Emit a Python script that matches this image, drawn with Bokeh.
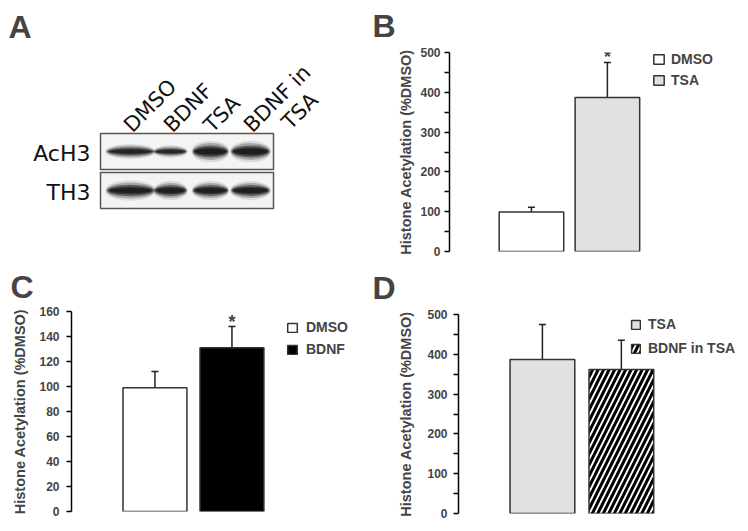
import math
from bokeh.plotting import figure
from bokeh.models import (Range1d, FixedTicker, Label, Legend, LegendItem,
                          ColumnDataSource, Whisker, TeeHead)
from bokeh.layouts import row, column
from bokeh.embed import file_html
from bokeh.resources import INLINE
from bokeh.core.properties import value

# ---------------- data ----------------
# Panel A (western blot)
blot_lanes = ["DMSO", "BDNF", "TSA", "BDNF in TSA"]
lane_label_line1 = ["DMSO", "BDNF", "TSA", "BDNF in"]
lane_label_line2 = ["TSA"]          # second line of the last lane label
blot_rows = ["AcH3", "TH3"]
ach3_signal = [0.70, 0.60, 1.0, 1.0]
th3_signal = [0.95, 0.90, 0.90, 0.90]
panel_letters = ["A", "B", "C", "D"]

# Panel B
b_groups = ["DMSO", "TSA"]
b_mean = [99, 387]
b_err = [12, 88]
b_star = [False, True]
b_ticks = [0, 100, 200, 300, 400, 500]
b_minor = [50, 150, 250, 350, 450]

# Panel C
c_groups = ["DMSO", "BDNF"]
c_mean = [99, 131]
c_err = [13, 17]
c_star = [False, True]
c_ticks = [0, 20, 40, 60, 80, 100, 120, 140, 160]
c_minor = []

# Panel D
d_groups = ["TSA", "BDNF in TSA"]
d_mean = [387, 362]
d_err = [88, 73]
d_star = [False, False]
d_ticks = [0, 100, 200, 300, 400, 500]
d_minor = [50, 150, 250, 350, 450]

Y_LABEL = "Histone Acetylation (%DMSO)"
FONT = "Liberation Sans"

# ---------------- panel A (also hosts the panel letters) ----------------
LANE0_PX, LANE_PX = 130.0, 40.0
ROW0_PX, ROW_PX = 151.0, 39.0
A_W, A_H = 395, 305


def ax_(px):
    return (px - LANE0_PX) / LANE_PX


def ay_(py):
    return (ROW0_PX - py) / ROW_PX


pa = figure(width=A_W, height=A_H,
            x_range=Range1d(ax_(0), ax_(A_W)), y_range=Range1d(ay_(A_H), ay_(0)),
            x_axis_type=None, y_axis_type=None, toolbar_location=None,
            output_backend="svg", min_border=0, outline_line_color=None)
pa.grid.visible = False

row_y = [-i for i in range(len(blot_rows))]
frame_cx = ax_(186.5)
frame_w = 173 / LANE_PX
frame_h = 36 / ROW_PX
pa.rect(x=[frame_cx] * len(blot_rows), y=row_y, width=frame_w, height=frame_h,
        fill_color="#f4f4f4", line_color="#555555", line_width=1.5)

band_w_px = [47, 32, 35, 38]
layers = [(1.08, 1.8, 0.10), (1.04, 1.4, 0.25), (1.0, 1.0, 0.40),
          (0.95, 0.7, 0.45), (0.88, 0.45, 0.45)]
bx, by, bw, bh, ba = [], [], [], [], []
for r_i, signals in enumerate([ach3_signal, th3_signal]):
    for i, s in enumerate(signals):
        for fw, fh, al in layers:
            bx.append(i)
            by.append(row_y[r_i])
            bw.append(band_w_px[i] * fw / LANE_PX)
            bh.append(12 * s * fh / ROW_PX)
            ba.append(al * (0.75 + 0.25 * s))
pa.ellipse(x=bx, y=by, width=bw, height=bh, fill_color="black",
           fill_alpha=ba, line_color=None)

pa.text(x=[frame_cx - frame_w / 2] * len(blot_rows), y=row_y, text=blot_rows,
        text_align="right", text_baseline="middle", x_offset=-10, y_offset=2,
        text_font=value("DejaVu Sans"), text_font_size="22px", text_color="#111111")

top_y = frame_h / 2
pa.text(x=list(range(len(blot_lanes))), y=[top_y] * len(blot_lanes), text=lane_label_line1,
        angle=math.pi / 4, text_align="left", text_baseline="alphabetic",
        x_offset=-3, y_offset=-5, text_font=value("DejaVu Sans"),
        text_font_size="21px", text_color="#111111")
pa.text(x=[len(blot_lanes) - 1], y=[top_y], text=lane_label_line2,
        angle=math.pi / 4, text_align="left", text_baseline="alphabetic",
        x_offset=35, y_offset=-8, text_font=value("DejaVu Sans"),
        text_font_size="21px", text_color="#111111")

# letter positions given as (left, cap centre) in page pixels
letter_px = [(8, 26), (372, 25), (10, 286), (372, 287)]
for letter, (lx, ly) in zip(panel_letters, letter_px):
    pa.add_layout(Label(x=ax_(lx), y=ay_(ly), text=letter, text_font=FONT,
                        text_font_style="bold", text_font_size="32px",
                        text_baseline="middle", text_align="left"))


# ---------------- bar panels ----------------
def bar_panel(groups, means, errs, stars, ticks, minor, y_max, fills, hatches,
              w, h, bl, bt, bb, x_start, x_end, bar_w,
              leg_xy, leg_glyph, leg_spacing, leg_standoff,
              axis_label_standoff, tick_label_standoff):
    p = figure(width=w, height=h, x_range=Range1d(x_start, x_end),
               y_range=Range1d(0, y_max), x_axis_type=None,
               toolbar_location=None, output_backend="svg",
               min_border_left=bl, min_border_right=0, min_border_top=bt,
               min_border_bottom=bb, outline_line_color=None)
    p.grid.visible = False
    xs = list(range(1, len(groups) + 1))
    src = ColumnDataSource(dict(x=xs, top=means,
                                upper=[m + e for m, e in zip(means, errs)],
                                label=groups, fill=fills, hatch=hatches))
    r = p.vbar(x="x", top="top", bottom=0, width=bar_w, source=src,
               fill_color="fill", line_color="#333333", line_width=1.5,
               hatch_pattern="hatch", hatch_color="black", hatch_weight=3,
               hatch_scale=11)
    p.add_layout(Whisker(base="x", lower="top", upper="upper", source=src,
                         line_color="#222222", line_width=1.5,
                         upper_head=TeeHead(size=7, line_color="#222222", line_width=1.5),
                         lower_head=None))
    for x, m, e, s in zip(xs, means, errs, stars):
        if s:
            p.add_layout(Label(x=x, y=m + e, text="*", text_align="center",
                               text_baseline="middle", y_offset=5,
                               text_font=FONT, text_font_style="bold",
                               text_font_size="18px"))
    ax = p.yaxis[0]
    ax.ticker = FixedTicker(ticks=ticks, minor_ticks=minor)
    ax.axis_line_width = 1.5
    ax.axis_line_color = "black"
    ax.major_tick_in = 0
    ax.major_tick_out = 5
    ax.minor_tick_in = 0
    ax.minor_tick_out = 5
    ax.major_tick_line_width = 1.5
    ax.minor_tick_line_width = 1.5
    ax.major_label_text_font = FONT
    ax.major_label_text_font_style = "bold"
    ax.major_label_text_font_size = "12px"
    ax.major_label_standoff = tick_label_standoff
    ax.axis_label = Y_LABEL
    ax.axis_label_text_font = FONT
    ax.axis_label_text_font_style = "bold"
    ax.axis_label_text_font_size = "14.5px"
    ax.axis_label_standoff = axis_label_standoff
    legend = Legend(items=[LegendItem(label=g, renderers=[r], index=i)
                           for i, g in enumerate(groups)],
                    location=leg_xy, glyph_width=leg_glyph[0],
                    glyph_height=leg_glyph[1], label_height=leg_glyph[1],
                    label_standoff=leg_standoff, spacing=leg_spacing,
                    padding=0, margin=0, border_line_alpha=0,
                    background_fill_alpha=0, label_text_font=FONT,
                    label_text_font_style="bold", label_text_font_size="14px")
    p.add_layout(legend)
    return p


pb = bar_panel(b_groups, b_mean, b_err, b_star, b_ticks, b_minor, 500,
               ["white", "#e1e1e1"], ["blank", "blank"],
               345, 262, 52, 52, 11, -0.0784, 3.752, 0.85,
               (203, 163), (13, 12), 5, 6, 3, 4)
pc = bar_panel(c_groups, c_mean, c_err, c_star, c_ticks, c_minor, 160,
               ["white", "black"], ["blank", "blank"],
               395, 218, 71, 6, 12, -0.084, 4.124, 0.83,
               (215, 154), (12, 11), 6, 8, 8, 7)
pd_ = bar_panel(d_groups, d_mean, d_err, d_star, d_ticks, d_minor, 500,
                ["#e1e1e1", "white"], ["blank", "/"],
                345, 261, 61, 52, 10, -0.063, 3.509, 0.82,
                (172, 157), (11, 11), 8, 7, 10, 6)

# each plot is wrapped on its own so that Bokeh does not align the frames
layout = row(column(row(pa), row(pc)), column(row(pb), row(pd_)))
open("out.html", "w").write(file_html(layout, INLINE))
